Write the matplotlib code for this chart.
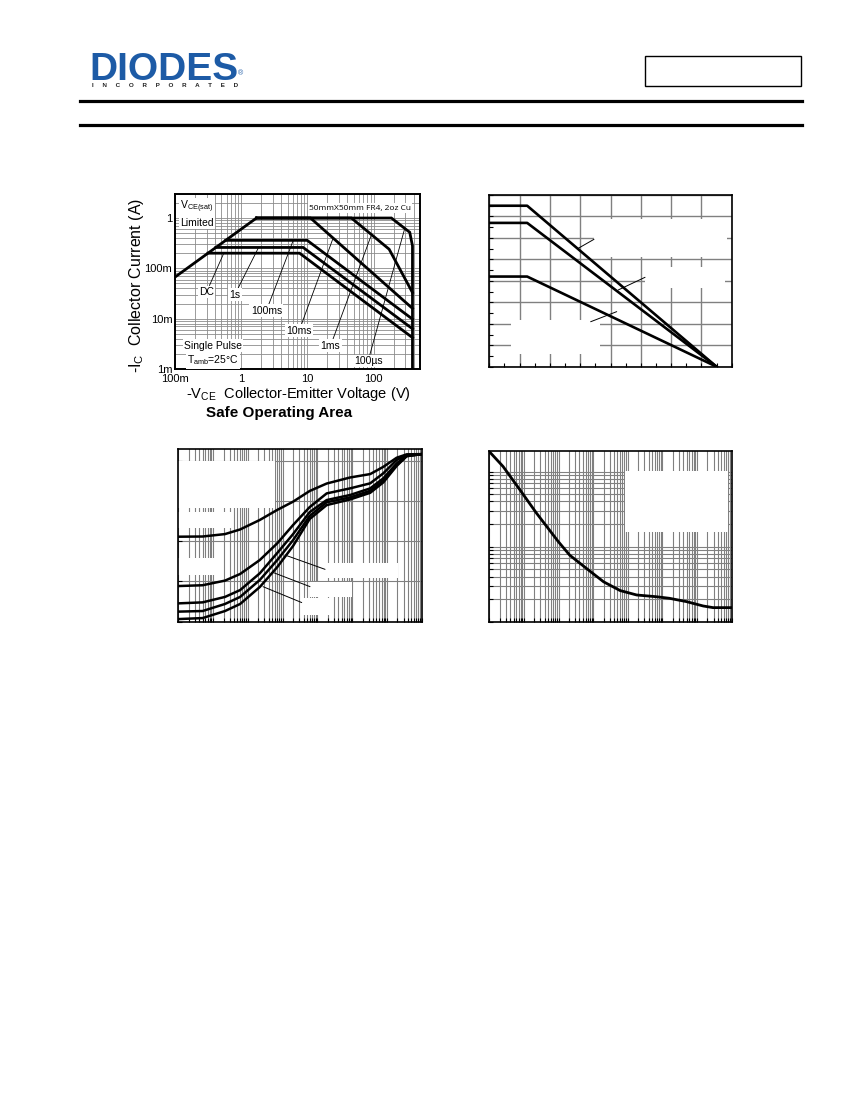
import matplotlib
matplotlib.use("Agg")
import matplotlib.pyplot as plt
import matplotlib.ticker as mticker
from matplotlib.patches import Rectangle
from matplotlib.lines import Line2D
import numpy as np

plt.rcParams['font.family'] = ['Liberation Sans', 'DejaVu Sans']
plt.rcParams['mathtext.fontset'] = 'custom'
plt.rcParams['mathtext.rm'] = 'Liberation Sans'
plt.rcParams['mathtext.default'] = 'regular'

# safe operating area, -VCE (V) / -IC (A)
vsat_v = [0.1, 1.7]
vsat_i = [0.067, 1.0]
dc_v = [0.315, 7.6, 385]
dc_i = [0.20, 0.20, 0.0042]
s1_v = [0.414, 8.6, 385]
s1_i = [0.26, 0.26, 0.0063]
ms100_v = [0.583, 9.9, 385]
ms100_i = [0.36, 0.36, 0.0098]
ms10_v = [1.7, 11.1, 385]
ms10_i = [1.0, 1.0, 0.016]
ms1_v = [1.7, 46, 171, 385]
ms1_i = [1.0, 1.0, 0.24, 0.033]
us100_v = [1.7, 185, 350, 385, 385]
us100_i = [1.0, 1.0, 0.52, 0.28, 0.001]
soa_xticks = [0.1, 1, 10, 100]
soa_xlabels = ['100m', '1', '10', '100']
soa_yticks = [0.001, 0.01, 0.1, 1]
soa_ylabels = ['1m', '10m', '100m', '1']

# derating, temperature (C) / power (W)
temp = [0, 25, 150]
pd_a = [1.50, 1.50, 0]
pd_b = [1.34, 1.34, 0]
pd_c = [0.84, 0.84, 0]

# transient thermal impedance, pulse width (s) / Rth (C/W)
zth_t = [1e-4, 5e-4, 2.2e-3, 6e-3, 0.022, 0.07, 0.2, 0.6, 1.85, 8.7, 33, 79, 190, 370, 1000]
zth_d05 = [42.2, 42.3, 43.5, 45.8, 50.5, 55.5, 59.6, 64.9, 68.6, 71.6, 73.3, 76.9, 81.4, 83.1, 83.2]
zth_d02 = [17.7, 18.1, 20.4, 23.7, 30.6, 38.9, 48.0, 56.9, 63.7, 66.2, 68.7, 73.7, 80.3, 82.7, 83.2]
zth_d01 = [9.1, 9.6, 12.3, 15.7, 24.0, 34.1, 43.5, 54.4, 60.4, 62.9, 66.2, 71.2, 78.6, 82.4, 83.2]
zth_d005 = [5.0, 5.3, 8.8, 12.3, 20.7, 30.6, 40.5, 52.5, 59.3, 61.7, 65.0, 70.0, 77.8, 82.2, 83.2]
zth_single = [1.3, 1.8, 5.3, 8.8, 17.2, 27.1, 37.6, 51.0, 57.9, 60.7, 64.0, 69.2, 77.3, 82.2, 83.2]

# pulse power dissipation, pulse width (s) / power (W)
pulse_t = [1e-4, 2.5e-4, 7.7e-4, 2.3e-3, 9.8e-3, 0.021, 0.065, 0.2, 0.6, 1.8, 6.8, 16, 50, 150, 290, 1000]
pulse_p = [185, 117, 57, 28, 11.7, 7.7, 5.1, 3.4, 2.6, 2.27, 2.15, 2.05, 1.85, 1.62, 1.54, 1.54]

W, H = 850, 1100
fig = plt.figure(figsize=(8.5, 11), dpi=100)


def box(l, t, r, b):
    return [l / W, 1 - b / H, (r - l) / W, (b - t) / H]


GRID = '#808080'
LBOX = dict(facecolor='white', edgecolor='none', pad=1)
LFS = 7.5

# ---- header ----
fig.text(89 / W, 1 - 79.5 / H, 'DIODES', fontsize=28, weight='bold', color='#1d5ba6',
         va='baseline', ha='left')
fig.text(238 / W, 1 - 74 / H, '\u00ae', fontsize=5, color='#1d5ba6', va='center')
fig.text(92 / W, 1 - 85.5 / H, (' ' * 5).join('INCORPORATED'), fontsize=4.5, weight='bold',
         color='#222222', ha='left', va='center')
fig.add_artist(Rectangle((645 / W, 1 - 86 / H), 156 / W, 30 / H, transform=fig.transFigure,
                         fill=False, lw=1, ec='black'))
for yy in (101, 125):
    fig.add_artist(Line2D([80 / W, 802 / W], [1 - yy / H] * 2, lw=2.3, color='black'))

# ---- safe operating area ----
ax = fig.add_axes(box(175, 194, 420, 369))
ax.set_xscale('log')
ax.set_yscale('log')
ax.set_xlim(0.1, 500)
ax.set_ylim(0.001, 3)
for v, i in [(vsat_v, vsat_i), (dc_v, dc_i), (s1_v, s1_i), (ms100_v, ms100_i),
             (ms10_v, ms10_i), (ms1_v, ms1_i), (us100_v, us100_i)]:
    ax.plot(v, i, color='black', lw=2.0, solid_joinstyle='miter', zorder=3)
ax.xaxis.set_minor_locator(mticker.LogLocator(base=10, subs=np.arange(2, 10), numticks=50))
ax.yaxis.set_minor_locator(mticker.LogLocator(base=10, subs=np.arange(2, 10), numticks=50))
ax.xaxis.set_minor_formatter(mticker.NullFormatter())
ax.yaxis.set_minor_formatter(mticker.NullFormatter())
ax.set_xticks(soa_xticks)
ax.set_xticklabels(soa_xlabels)
ax.set_yticks(soa_yticks)
ax.set_yticklabels(soa_ylabels)
ax.tick_params(which='both', length=0, labelsize=8)
ax.tick_params(axis='x', pad=3.5)
ax.tick_params(axis='y', pad=2)
ax.grid(True, which='both', color='#8c8c8c', lw=0.6)
for s in ax.spines.values():
    s.set_linewidth(1.4)

leaders = [('DC', (0.30, 0.034), (0.536, 0.19)),
           ('1s', (0.80, 0.030), (1.8, 0.25)),
           ('100ms', (2.4, 0.0145), (6.1, 0.36)),
           ('10ms', (7.5, 0.0058), (24.4, 0.40)),
           ('1ms', (22.3, 0.0029), (92.7, 0.47)),
           ('100\u00b5s', (82.4, 0.00145), (294, 0.62))]
for lab, txy, pxy in leaders:
    ax.annotate(lab, xy=pxy, xytext=txy, fontsize=LFS, ha='center', va='center', bbox=LBOX,
                arrowprops=dict(arrowstyle='-', lw=0.6, color='black', shrinkA=0, shrinkB=0),
                zorder=4)
ax.text(0.02, 0.925, r'V$_{CE(sat)}$', transform=ax.transAxes, fontsize=LFS, va='center', bbox=LBOX)
ax.text(0.02, 0.835, 'Limited', transform=ax.transAxes, fontsize=LFS, va='center', bbox=LBOX)
ax.text(0.755, 0.918, '50mmX50mm FR4, 2oz Cu', transform=ax.transAxes, fontsize=6,
        family=['Open Sans', 'DejaVu Sans'], ha='center', va='center', bbox=LBOX)
ax.text(0.037, 0.133, 'Single Pulse', transform=ax.transAxes, fontsize=LFS, va='center', bbox=LBOX)
ax.text(0.05, 0.05, 'T$_{amb}$=25°C', transform=ax.transAxes, fontsize=LFS, va='center', bbox=LBOX)

fig.text(136 / W, 1 - 285 / H, r'-I$_{C}$  Collector Current (A)', rotation=90,
         ha='center', va='center', fontsize=11.5)
fig.text(298 / W, 1 - 394 / H, r'-V$_{CE}$  Collector-Emitter Voltage (V)',
         ha='center', va='center', fontsize=10.5)
fig.text(279 / W, 1 - 413 / H, 'Safe Operating Area', weight='bold', fontsize=11,
         ha='center', va='center')

# ---- derating ----
ax2 = fig.add_axes(box(489.3, 195, 731.7, 366.7))
ax2.set_xlim(0, 160)
ax2.set_ylim(0, 1.6)
for p in (pd_a, pd_b, pd_c):
    ax2.plot(temp, p, color='black', lw=1.9, zorder=3)
ax2.xaxis.set_major_locator(mticker.MultipleLocator(20))
ax2.yaxis.set_major_locator(mticker.MultipleLocator(0.2))
ax2.xaxis.set_minor_locator(mticker.MultipleLocator(10))
ax2.yaxis.set_minor_locator(mticker.MultipleLocator(0.1))
ax2.tick_params(which='both', direction='in', length=3, width=0.8,
                labelbottom=False, labelleft=False)
ax2.grid(True, which='major', color=GRID, lw=1.0)
for l, b, r, t in [(0.432, 0.637, 0.979, 0.858), (0.642, 0.457, 0.972, 0.579),
                   (0.088, 0.074, 0.457, 0.272)]:
    ax2.add_patch(Rectangle((l, b), r - l, t - b, transform=ax2.transAxes,
                            fc='white', ec='none', zorder=1.8))
for (x0, y0), (x1, y1) in [((58.7, 1.103), (69.1, 1.187)),
                           ((85.1, 0.715), (102.8, 0.833)),
                           ((66.9, 0.419), (84.1, 0.513))]:
    ax2.annotate('', xy=(x1, y1), xytext=(x0, y0),
                 arrowprops=dict(arrowstyle='-', lw=0.7, color='black', shrinkA=0, shrinkB=0))
for s in ax2.spines.values():
    s.set_linewidth(1.2)

# ---- transient thermal impedance ----
ax3 = fig.add_axes(box(178.3, 449.3, 421.7, 621.7))
ax3.set_xscale('log')
ax3.set_xlim(1e-4, 1e3)
ax3.set_ylim(0, 85.6)
for z in (zth_d05, zth_d02, zth_d01, zth_d005, zth_single):
    ax3.plot(zth_t, z, color='black', lw=1.8, zorder=3)
ax3.xaxis.set_minor_locator(mticker.LogLocator(base=10, subs=np.arange(2, 10), numticks=50))
ax3.xaxis.set_minor_formatter(mticker.NullFormatter())
ax3.xaxis.set_major_locator(mticker.LogLocator(base=10, numticks=20))
ax3.yaxis.set_major_locator(mticker.MultipleLocator(20))
ax3.tick_params(which='both', direction='in', length=3, width=0.8,
                labelbottom=False, labelleft=False)
ax3.grid(True, axis='x', which='both', color=GRID, lw=0.8)
ax3.grid(True, axis='y', which='major', color=GRID, lw=0.8)
for l, b, r, t in [(0.0, 0.658, 0.397, 0.934), (0.0, 0.542, 0.225, 0.638),
                   (0.0, 0.271, 0.151, 0.369), (0.603, 0.253, 0.903, 0.340),
                   (0.541, 0.143, 0.714, 0.230), (0.508, 0.039, 0.636, 0.137)]:
    ax3.add_patch(Rectangle((l, b), r - l, t - b, transform=ax3.transAxes,
                            fc='white', ec='none', zorder=1.8))
for (x0, y0), (x1, y1) in [((0.117, 33.1), (1.66, 26.0)),
                           ((0.054, 24.4), (0.614, 17.4)),
                           ((0.0273, 17.4), (0.354, 9.5))]:
    ax3.annotate('', xy=(x1, y1), xytext=(x0, y0),
                 arrowprops=dict(arrowstyle='-', lw=0.7, color='black', shrinkA=0, shrinkB=0))
for s in ax3.spines.values():
    s.set_linewidth(1.2)

# ---- pulse power dissipation ----
ax4 = fig.add_axes(box(489.3, 450.7, 731.7, 621.7))
ax4.set_xscale('log')
ax4.set_yscale('log')
ax4.set_xlim(1e-4, 1e3)
ax4.set_ylim(1, 190)
ax4.plot(pulse_t, pulse_p, color='black', lw=2.0, zorder=3)
for a in (ax4.xaxis, ax4.yaxis):
    a.set_major_locator(mticker.LogLocator(base=10, numticks=20))
    a.set_minor_locator(mticker.LogLocator(base=10, subs=np.arange(2, 10), numticks=50))
    a.set_minor_formatter(mticker.NullFormatter())
ax4.tick_params(which='both', direction='in', length=3, width=0.8,
                labelbottom=False, labelleft=False)
ax4.grid(True, which='both', color=GRID, lw=0.8)
ax4.add_patch(Rectangle((0.560, 0.526), 0.426, 0.357, transform=ax4.transAxes,
                        fc='white', ec='none', zorder=1.8))
for s in ax4.spines.values():
    s.set_linewidth(1.2)

fig.savefig('out.png', dpi=100)
